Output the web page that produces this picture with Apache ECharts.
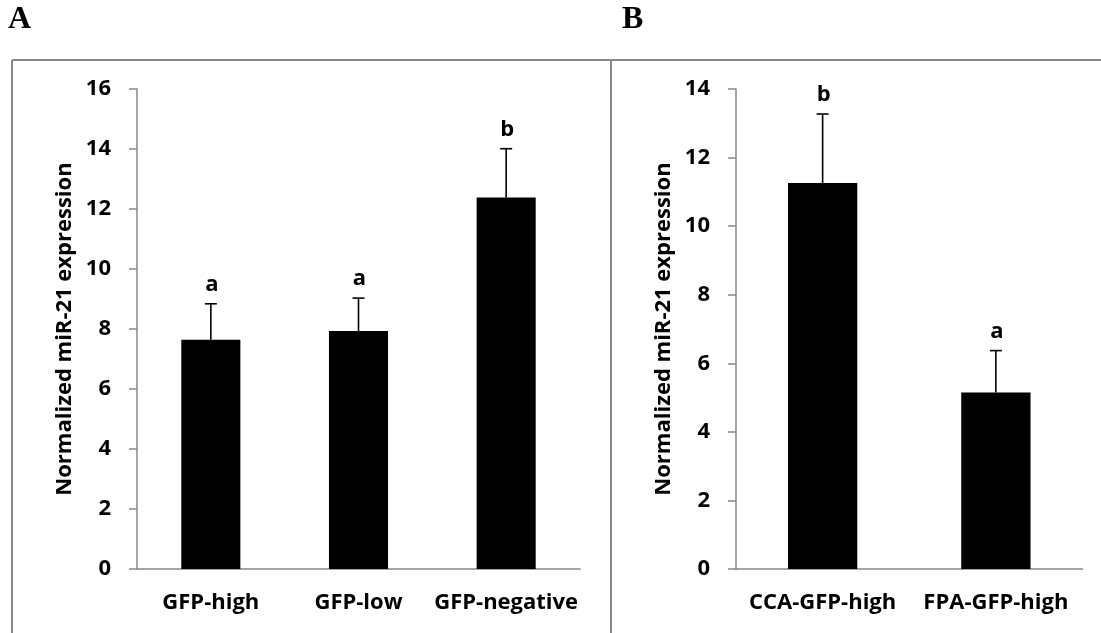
<!DOCTYPE html>
<html>
<head>
<meta charset="utf-8">
<script src="https://cdn.jsdelivr.net/npm/echarts@6/dist/echarts.min.js"></script>
<style>
  html, body { margin: 0; padding: 0; background: #fff; }
  #chart { width: 1101px; height: 633px; }
</style>
</head>
<body>
<div id="chart"></div>
<script>
// Panel A: miR-21 by GFP sort gate
const catsA = ['GFP-high', 'GFP-low', 'GFP-negative'];
const meanA = [7.64, 7.93, 12.38];
const errA = [1.20, 1.10, 1.63];
const letterA = ['a', 'a', 'b'];
const ticksA = { min: 0, max: 16, interval: 2 };

// Panel B: GFP-high cells from two anatomical sites
const catsB = ['CCA-GFP-high', 'FPA-GFP-high'];
const meanB = [11.26, 5.15];
const errB = [2.01, 1.22];
const letterB = ['b', 'a'];
const ticksB = { min: 0, max: 14, interval: 2 };

const yTitle = 'Normalized miR-21 expression';
const FONT = '"Open Sans", sans-serif';
const FS = 22;
const GRAY = '#888888';

const chart = echarts.init(document.getElementById('chart'), null, { renderer: 'canvas' });

function errRender(errs, letters) {
  return function (params, api) {
    const i = api.value(0);
    const m = api.value(1);
    const base = api.coord([i, m]);
    const top = api.coord([i, m + errs[i]]);
    const half = 6;
    return {
      type: 'group',
      children: [
        { type: 'line', shape: { x1: base[0], y1: base[1], x2: top[0], y2: top[1] },
          style: { stroke: '#000', lineWidth: 1.6 } },
        { type: 'line', shape: { x1: top[0] - half, y1: top[1], x2: top[0] + half, y2: top[1] },
          style: { stroke: '#000', lineWidth: 1.6 } },
        { type: 'text', x: top[0] + 1, y: top[1] - 19,
          style: { text: letters[i], font: 'bold ' + FS + 'px ' + FONT, fill: '#000',
                   textAlign: 'center', textVerticalAlign: 'middle' } }
      ]
    };
  };
}

function xAxisFor(cats, gridIndex) {
  return {
    type: 'category', gridIndex, data: cats,
    axisLine: { lineStyle: { color: GRAY, width: 1.5 } },
    axisTick: { show: false },
    axisLabel: { interval: 0, color: '#000', fontFamily: FONT, fontWeight: 'bold',
                 fontSize: FS, margin: 23 }
  };
}

function yAxisFor(t, gridIndex) {
  return {
    type: 'value', gridIndex, min: t.min, max: t.max, interval: t.interval,
    name: yTitle, nameLocation: 'middle', nameGap: 61,
    nameTextStyle: { color: '#000', fontFamily: FONT, fontWeight: 'bold', fontSize: FS },
    axisLine: { show: true, lineStyle: { color: GRAY, width: 1.5 } },
    axisTick: { show: true, length: 8, lineStyle: { color: GRAY, width: 1.5 } },
    splitLine: { show: false },
    axisLabel: { color: '#000', fontFamily: FONT, fontWeight: 'bold', fontSize: FS, margin: 26 }
  };
}

const option = {
  animation: false,
  backgroundColor: '#fff',
  grid: [
    { left: 137, top: 89, width: 443, height: 480 },
    { left: 736, top: 89, width: 346.5, height: 480 }
  ],
  xAxis: [xAxisFor(catsA, 0), xAxisFor(catsB, 1)],
  yAxis: [yAxisFor(ticksA, 0), yAxisFor(ticksB, 1)],
  series: [
    { type: 'bar', xAxisIndex: 0, yAxisIndex: 0, data: meanA, barWidth: '40%',
      itemStyle: { color: '#000' } },
    { type: 'custom', xAxisIndex: 0, yAxisIndex: 0, renderItem: errRender(errA, letterA),
      data: meanA.map((v, i) => [i, v]), encode: { x: 0, y: 1 }, z: 3 },
    { type: 'bar', xAxisIndex: 1, yAxisIndex: 1, data: meanB, barWidth: '40%',
      itemStyle: { color: '#000' } },
    { type: 'custom', xAxisIndex: 1, yAxisIndex: 1, renderItem: errRender(errB, letterB),
      data: meanB.map((v, i) => [i, v]), encode: { x: 0, y: 1 }, z: 3 }
  ],
  graphic: [
    // panel frame: top rule, left rule and divider
    { type: 'line', shape: { x1: 12, y1: 60, x2: 1101, y2: 60 }, style: { stroke: GRAY, lineWidth: 2 } },
    { type: 'line', shape: { x1: 12, y1: 60, x2: 12, y2: 633 }, style: { stroke: GRAY, lineWidth: 2 } },
    { type: 'line', shape: { x1: 611, y1: 60, x2: 611, y2: 633 }, style: { stroke: GRAY, lineWidth: 2 } },
    { type: 'text', left: 8, top: 4,
      style: { text: 'A', font: 'bold 32px "Liberation Serif", serif', fill: '#000' } },
    { type: 'text', left: 622, top: 4,
      style: { text: 'B', font: 'bold 32px "Liberation Serif", serif', fill: '#000' } }
  ]
};

chart.setOption(option);
</script>
</body>
</html>
